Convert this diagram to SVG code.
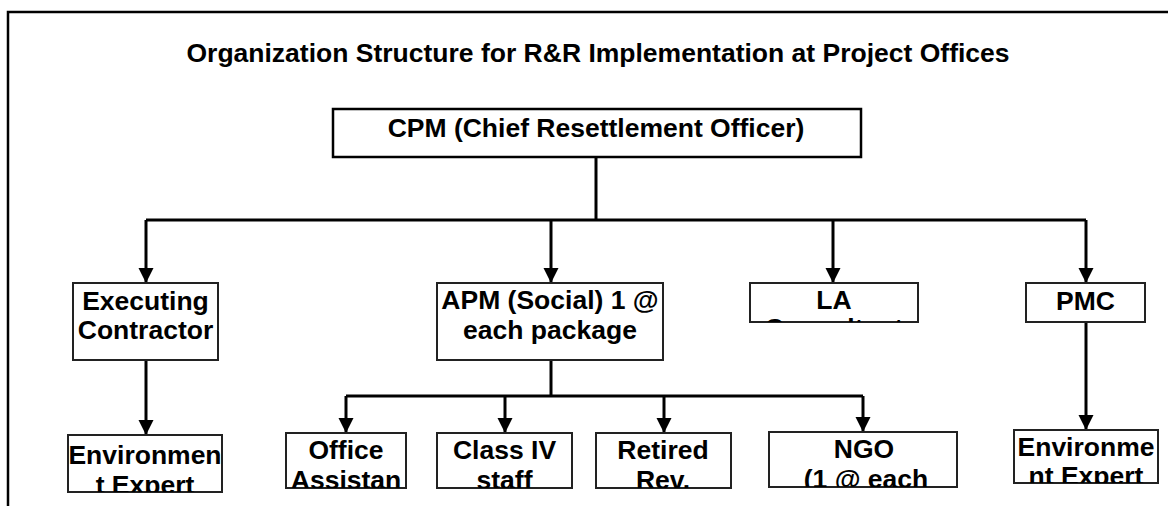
<svg xmlns="http://www.w3.org/2000/svg" width="1168" height="506" viewBox="0 0 1168 506">
<style>
  text { font-family: "Liberation Sans", Arial, sans-serif; font-weight: bold; font-size: 26.5px; fill: #000; text-anchor: middle; }
  .box { fill: #fff; stroke: #222; stroke-width: 2; }
  .conn { fill: none; stroke: #000; stroke-width: 3; }
</style>
<defs>
  <marker id="ad" markerUnits="userSpaceOnUse" markerWidth="16" markerHeight="16" viewBox="0 0 16 16" refX="8" refY="15" orient="0">
    <path d="M0.5,0 L15.5,0 L8,15 Z" fill="#000"/>
  </marker>
  <clipPath id="c-la"><rect x="750" y="283" width="168" height="39"/></clipPath>
  <clipPath id="c-env1"><rect x="68" y="435" width="154" height="57"/></clipPath>
  <clipPath id="c-off"><rect x="286" y="433" width="120" height="55"/></clipPath>
  <clipPath id="c-cls"><rect x="437" y="433" width="135" height="55"/></clipPath>
  <clipPath id="c-ret"><rect x="596" y="433" width="135" height="55"/></clipPath>
  <clipPath id="c-ngo"><rect x="769" y="432" width="188" height="55"/></clipPath>
  <clipPath id="c-env2"><rect x="1014" y="430" width="144" height="53"/></clipPath>
</defs>

<rect x="8" y="12" width="1200" height="600" fill="#fff" stroke="#000" stroke-width="2.5"/>

<text id="title" x="598" y="62">Organization Structure for R&amp;R Implementation at Project Offices</text>

<g id="connectors">
  <path class="conn" d="M596,157 V220"/>
  <path class="conn" d="M146,220 H1086"/>
  <path class="conn" d="M146,220 V283" marker-end="url(#ad)"/>
  <path class="conn" d="M551,220 V283" marker-end="url(#ad)"/>
  <path class="conn" d="M833,220 V283" marker-end="url(#ad)"/>
  <path class="conn" d="M1086,220 V283" marker-end="url(#ad)"/>
  <path class="conn" d="M146,360 V435" marker-end="url(#ad)"/>
  <path class="conn" d="M551,360 V396"/>
  <path class="conn" d="M346,396 H863"/>
  <path class="conn" d="M346,396 V433" marker-end="url(#ad)"/>
  <path class="conn" d="M505,396 V433" marker-end="url(#ad)"/>
  <path class="conn" d="M664,396 V433" marker-end="url(#ad)"/>
  <path class="conn" d="M863,396 V432" marker-end="url(#ad)"/>
  <path class="conn" d="M1086,322 V430" marker-end="url(#ad)"/>
</g>

<g id="cpm">
  <rect x="333" y="109" width="528" height="48" fill="#fff" stroke="#000" stroke-width="2.5"/>
  <text x="596" y="137">CPM (Chief Resettlement Officer)</text>
</g>

<g id="exec">
  <rect class="box" x="73" y="283" width="145" height="77"/>
  <text x="145.5" y="310">Executing</text>
  <text x="145.5" y="339">Contractor</text>
</g>

<g id="apm">
  <rect class="box" x="437" y="283" width="226" height="77"/>
  <text x="550" y="309">APM (Social) 1 @</text>
  <text x="550" y="338.5">each package</text>
</g>

<g id="la">
  <rect class="box" x="750" y="283" width="168" height="39"/>
  <g clip-path="url(#c-la)">
    <text x="834" y="309">LA</text>
    <text x="834" y="336.5">Consultant</text>
  </g>
</g>

<g id="pmc">
  <rect class="box" x="1026" y="283" width="119" height="39"/>
  <text x="1085.5" y="310">PMC</text>
</g>

<g id="env1">
  <rect class="box" x="68" y="435" width="154" height="57"/>
  <g clip-path="url(#c-env1)">
    <text x="145" y="464" font-size="26">Environmen</text>
    <text x="145" y="493.5" font-size="26">t Expert</text>
  </g>
</g>

<g id="office">
  <rect class="box" x="286" y="433" width="120" height="55"/>
  <g clip-path="url(#c-off)">
    <text x="346" y="458.5">Office</text>
    <text x="346" y="488.5" font-size="25">Assistan</text>
  </g>
</g>

<g id="class4">
  <rect class="box" x="437" y="433" width="135" height="55"/>
  <g clip-path="url(#c-cls)">
    <text x="504.5" y="459">Class IV</text>
    <text x="504.5" y="488.5">staff</text>
  </g>
</g>

<g id="retired">
  <rect class="box" x="596" y="433" width="135" height="55"/>
  <g clip-path="url(#c-ret)">
    <text x="663" y="459">Retired</text>
    <text x="663" y="488.5">Rev.</text>
  </g>
</g>

<g id="ngo">
  <rect class="box" x="769" y="432" width="188" height="55"/>
  <g clip-path="url(#c-ngo)">
    <text x="864" y="458">NGO</text>
    <text x="866" y="488">(1 @ each</text>
  </g>
</g>

<g id="env2">
  <rect class="box" x="1014" y="430" width="144" height="53"/>
  <g clip-path="url(#c-env2)">
    <text x="1086" y="455.5">Environme</text>
    <text x="1086" y="485">nt Expert</text>
  </g>
</g>
</svg>
